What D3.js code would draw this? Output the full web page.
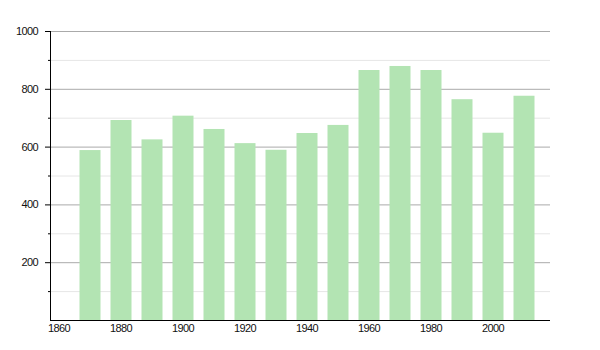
<!DOCTYPE html>
<html>
<head>
<meta charset="utf-8">
<script src="https://cdn.jsdelivr.net/npm/d3@7"></script>
<style>
  body { margin: 0; background: #fff; }
  text { font-family: "Liberation Sans", Arial, sans-serif; font-size: 11px; letter-spacing: -0.6px; fill: #111; }
</style>
</head>
<body>
<svg id="chart" width="600" height="350"></svg>
<script>
const years = [1870, 1880, 1890, 1900, 1910, 1920, 1930, 1940, 1950, 1960, 1970, 1980, 1990, 2000, 2010];
const population = [588, 692, 625, 707, 661, 612, 589, 647, 675, 865, 879, 865, 764, 648, 776];
const yTicks = [200, 400, 600, 800, 1000];
const yMinor = [100, 300, 500, 700, 900];
const xTicks = [1860, 1880, 1900, 1920, 1940, 1960, 1980, 2000];

const svg = d3.select("#chart");
const mLeft = 50, mRight = 550, mTop = 31, mBottom = 320;

const x = d3.scaleLinear().domain([1860, 2020]).range([59, 555]);
const y = d3.scaleLinear().domain([0, 1000]).range([mBottom, mTop]);

// grille
svg.append("g").selectAll("line")
  .data(yMinor)
  .enter().append("line")
  .attr("x1", mLeft).attr("x2", mRight)
  .attr("y1", d => y(d) + 0.5).attr("y2", d => y(d) + 0.5)
  .attr("stroke", "#e6e6e6");

svg.append("g").selectAll("line")
  .data(yTicks)
  .enter().append("line")
  .attr("x1", mLeft).attr("x2", mRight)
  .attr("y1", d => y(d) + 0.5).attr("y2", d => y(d) + 0.5)
  .attr("stroke", "#aaaaaa");

// flou léger sur les barres
const defs = svg.append("defs");
defs.append("filter").attr("id", "soft")
  .attr("x", "-20%").attr("width", "140%")
  .append("feGaussianBlur").attr("stdDeviation", "0.7 0.3");

const barW = 21;
svg.append("g").selectAll("rect")
  .data(years)
  .enter().append("rect")
  .attr("x", d => x(d) - barW / 2)
  .attr("y", (d, i) => y(population[i]))
  .attr("width", barW)
  .attr("height", (d, i) => mBottom - y(population[i]))
  .attr("fill", "#b3e4b3")
  .attr("filter", "url(#soft)");

// axe Y
const yAxis = svg.append("g");
yAxis.append("line")
  .attr("x1", mLeft + 0.5).attr("x2", mLeft + 0.5)
  .attr("y1", mTop).attr("y2", mBottom + 0.5)
  .attr("stroke", "#000");
yAxis.selectAll("line.tick")
  .data(yTicks)
  .enter().append("line")
  .attr("class", "tick")
  .attr("x1", mLeft - 5).attr("x2", mLeft)
  .attr("y1", d => y(d) + 0.5).attr("y2", d => y(d) + 0.5)
  .attr("stroke", "#000");
yAxis.selectAll("line.mtick")
  .data(yMinor)
  .enter().append("line")
  .attr("class", "mtick")
  .attr("x1", mLeft - 2).attr("x2", mLeft)
  .attr("y1", d => y(d) + 0.5).attr("y2", d => y(d) + 0.5)
  .attr("stroke", "#000");
yAxis.selectAll("text")
  .data(yTicks)
  .enter().append("text")
  .attr("x", 38)
  .attr("y", d => y(d) + 4)
  .attr("text-anchor", "end")
  .text(d => d);

// axe X
const xAxis = svg.append("g");
xAxis.append("line")
  .attr("x1", mLeft).attr("x2", mRight)
  .attr("y1", mBottom + 0.5).attr("y2", mBottom + 0.5)
  .attr("stroke", "#000");
xAxis.selectAll("text")
  .data(xTicks)
  .enter().append("text")
  .attr("x", d => x(d))
  .attr("y", 332)
  .attr("text-anchor", "middle")
  .text(d => d);
</script>
</body>
</html>
